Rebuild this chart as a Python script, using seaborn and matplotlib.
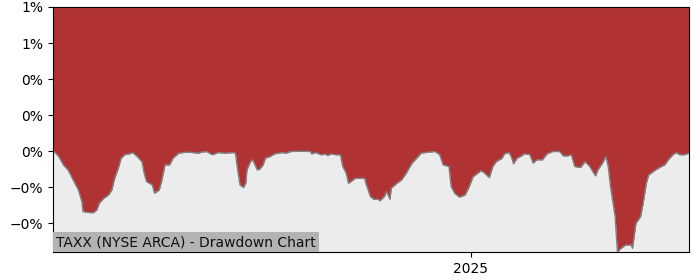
import matplotlib
matplotlib.use("Agg")
import matplotlib.pyplot as plt
import matplotlib.dates as mdates
from matplotlib.ticker import PercentFormatter, MultipleLocator
import seaborn as sns
import pandas as pd

dates = [
    "2024-01-05", "2024-01-07", "2024-01-10", "2024-01-14", "2024-01-18", "2024-01-21",
    "2024-01-24", "2024-01-27", "2024-01-30", "2024-01-31", "2024-02-06", "2024-02-09",
    "2024-02-12", "2024-02-14", "2024-02-18", "2024-02-22", "2024-02-25", "2024-02-27",
    "2024-03-02", "2024-03-04", "2024-03-07", "2024-03-11", "2024-03-14", "2024-03-18",
    "2024-03-22", "2024-03-24", "2024-03-26", "2024-03-31", "2024-04-02", "2024-04-06",
    "2024-04-08", "2024-04-11", "2024-04-15", "2024-04-18", "2024-04-23", "2024-04-30",
    "2024-05-05", "2024-05-10", "2024-05-13", "2024-05-17", "2024-05-22", "2024-05-27",
    "2024-06-02", "2024-06-09", "2024-06-11", "2024-06-13", "2024-06-15", "2024-06-18",
    "2024-06-20", "2024-06-21", "2024-06-24", "2024-06-26", "2024-06-30", "2024-07-02",
    "2024-07-05", "2024-07-07", "2024-07-11", "2024-07-15", "2024-07-21", "2024-07-25",
    "2024-07-29", "2024-08-04", "2024-08-10", "2024-08-15", "2024-08-16", "2024-08-20",
    "2024-08-24", "2024-08-28", "2024-08-30", "2024-09-02", "2024-09-06", "2024-09-10",
    "2024-09-12", "2024-09-15", "2024-09-17", "2024-09-19", "2024-09-23", "2024-09-27",
    "2024-10-01", "2024-10-02", "2024-10-06", "2024-10-09", "2024-10-13", "2024-10-14",
    "2024-10-18", "2024-10-20", "2024-10-23", "2024-10-24", "2024-10-29", "2024-11-02",
    "2024-11-06", "2024-11-11", "2024-11-15", "2024-11-19", "2024-11-26", "2024-12-01",
    "2024-12-05", "2024-12-08", "2024-12-13", "2024-12-15", "2024-12-18", "2024-12-22",
    "2024-12-27", "2024-12-30", "2025-01-03", "2025-01-07", "2025-01-10", "2025-01-13",
    "2025-01-17", "2025-01-20", "2025-01-23", "2025-01-28", "2025-01-30", "2025-02-03",
    "2025-02-05", "2025-02-07", "2025-02-10", "2025-02-14", "2025-02-16", "2025-02-21",
    "2025-02-24", "2025-02-27", "2025-03-04", "2025-03-08", "2025-03-13", "2025-03-19",
    "2025-03-22", "2025-03-26", "2025-03-29", "2025-04-01", "2025-04-06", "2025-04-10",
    "2025-04-14", "2025-04-19", "2025-04-21", "2025-04-25", "2025-04-28", "2025-04-30",
    "2025-05-02", "2025-05-06", "2025-05-08", "2025-05-11", "2025-05-15", "2025-05-20",
    "2025-05-21", "2025-05-24", "2025-05-28", "2025-05-30", "2025-06-02", "2025-06-04",
    "2025-06-08", "2025-06-10", "2025-06-15", "2025-06-18", "2025-06-21", "2025-06-25",
    "2025-06-28", "2025-07-01", "2025-07-05", "2025-07-09",
]

drawdown_pct = [
    0.0, -0.008, -0.029, -0.075, -0.103, -0.140,
    -0.177, -0.214, -0.279, -0.334, -0.340, -0.340,
    -0.325, -0.288, -0.260, -0.242, -0.214, -0.158,
    -0.084, -0.038, -0.019, -0.014, -0.007, -0.029,
    -0.057, -0.121, -0.168, -0.186, -0.232, -0.214,
    -0.168, -0.075, -0.075, -0.038, -0.010, -0.004,
    -0.007, -0.010, -0.004, -0.001, -0.019, -0.007,
    -0.010, -0.007, -0.010, -0.103, -0.186, -0.201,
    -0.177, -0.103, -0.057, -0.047, -0.103, -0.099,
    -0.075, -0.038, -0.029, -0.014, -0.007, -0.010,
    -0.001, 0.0, 0.0, -0.001, -0.014, -0.007,
    -0.019, -0.016, -0.023, -0.014, -0.019, -0.019,
    -0.084, -0.121, -0.177, -0.168, -0.149, -0.149,
    -0.149, -0.177, -0.251, -0.266, -0.266, -0.275,
    -0.251, -0.223, -0.266, -0.204, -0.177, -0.158,
    -0.121, -0.066, -0.038, -0.010, -0.004, -0.001,
    -0.019, -0.075, -0.084, -0.196, -0.232, -0.254,
    -0.242, -0.204, -0.140, -0.121, -0.107, -0.121,
    -0.146, -0.084, -0.057, -0.038, -0.014, -0.007,
    -0.029, -0.069, -0.038, -0.025, -0.014, -0.017,
    -0.066, -0.047, -0.047, -0.014, -0.001, -0.001,
    -0.025, -0.025, -0.019, -0.084, -0.090, -0.057,
    -0.084, -0.136, -0.103, -0.066, -0.029, -0.084,
    -0.196, -0.362, -0.558, -0.538, -0.519, -0.519,
    -0.538, -0.399, -0.362, -0.297, -0.177, -0.131,
    -0.112, -0.103, -0.084, -0.075, -0.047, -0.019,
    -0.007, -0.019, -0.019, -0.010,
]

title_text = "TAXX (NYSE ARCA) - Drawdown Chart"
y_top_pct = 0.8

df = pd.DataFrame({"date": pd.to_datetime(dates), "dd": drawdown_pct})

fig = plt.figure(figsize=(7, 2.8), dpi=100)
ax = fig.add_axes([53 / 700, 1 - 252 / 280, 636 / 700, 245 / 280])
ax.set_facecolor("#ececec")

ax.fill_between(df["date"], df["dd"], y_top_pct, color="#b03232", linewidth=0)
sns.lineplot(data=df, x="date", y="dd", ax=ax, color="#808080", linewidth=1.0)

ax.set_xlim(df["date"].min(), df["date"].max())
ax.set_ylim(min(drawdown_pct), y_top_pct)
ax.yaxis.set_major_locator(MultipleLocator(0.2))
ax.yaxis.set_major_formatter(PercentFormatter(xmax=100, decimals=0))
ax.xaxis.set_major_locator(mdates.YearLocator())
ax.xaxis.set_major_formatter(mdates.DateFormatter("%Y"))
ax.set_xlabel("")
ax.set_ylabel("")

ax.annotate(title_text, xy=(0, 0), xycoords="axes fraction",
            xytext=(2.2, 2.0), textcoords="offset points",
            fontsize=10, ha="left", va="bottom", color="#111111", zorder=5,
            bbox=dict(boxstyle="square,pad=0.2", facecolor="#b3b3b3", edgecolor="none"))

fig.savefig("out.png", dpi=100)
